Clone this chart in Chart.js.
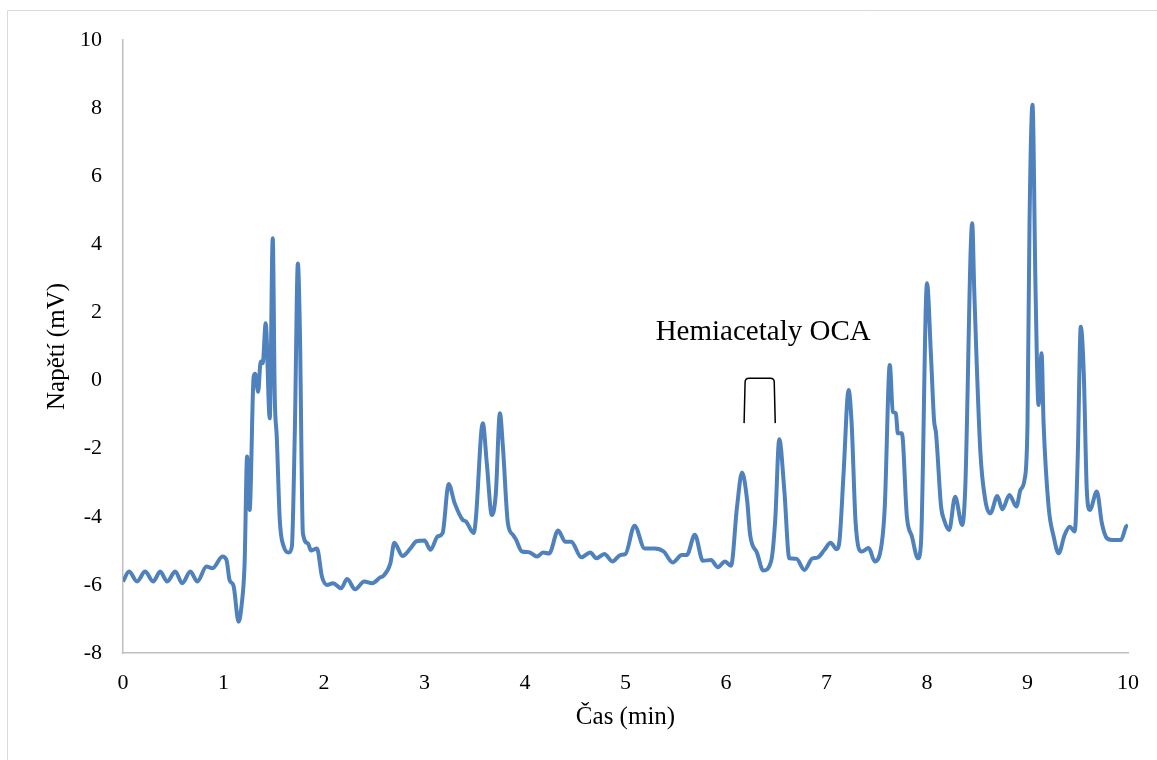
<!DOCTYPE html>
<html>
<head>
<meta charset="utf-8">
<script src="https://cdn.jsdelivr.net/npm/chart.js@4/dist/chart.umd.min.js"></script>
<style>
	html, body { margin: 0; padding: 0; background: #fff; }
	canvas { display: block; }
</style>
</head>
<body>
<canvas id="chart" width="1157" height="760"></canvas>
<script>
// time (min) and detector voltage (mV)
const times = [
	0.00, 0.06, 0.14, 0.22, 0.30, 0.37, 0.44, 0.52, 0.59, 0.67, 0.74, 0.83, 0.89, 0.99,
	1.03, 1.06, 1.10, 1.15, 1.18, 1.21, 1.235, 1.26, 1.30, 1.315, 1.345, 1.37, 1.39, 1.42,
	1.46, 1.49, 1.51, 1.53, 1.56, 1.60, 1.65, 1.68, 1.71, 1.74, 1.76, 1.79, 1.84, 1.87,
	1.93, 1.98, 2.03, 2.09, 2.17, 2.23, 2.31, 2.40, 2.48, 2.56, 2.59, 2.66, 2.70, 2.78,
	2.86, 2.92, 3.00, 3.06, 3.13, 3.18, 3.24, 3.30, 3.38, 3.41, 3.49, 3.51, 3.58, 3.62,
	3.67, 3.71, 3.75, 3.78, 3.83, 3.88, 3.91, 3.97, 4.04, 4.12, 4.18, 4.24, 4.33, 4.40,
	4.46, 4.56, 4.65, 4.71, 4.79, 4.87, 4.95, 5.00, 5.09, 5.19, 5.29, 5.38, 5.47, 5.56,
	5.61, 5.69, 5.77, 5.85, 5.92, 5.99, 6.05, 6.11, 6.16, 6.21, 6.24, 6.31, 6.37, 6.45,
	6.49, 6.53, 6.58, 6.63, 6.70, 6.78, 6.86, 6.91, 6.98, 7.04, 7.10, 7.13, 7.17, 7.22,
	7.25, 7.29, 7.35, 7.42, 7.48, 7.55, 7.58, 7.63, 7.66, 7.69, 7.71, 7.75, 7.80, 7.85,
	7.91, 7.94, 8.00, 8.04, 8.07, 8.09, 8.14, 8.17, 8.22, 8.28, 8.35, 8.38, 8.45, 8.47,
	8.53, 8.58, 8.63, 8.70, 8.75, 8.82, 8.89, 8.93, 8.97, 9.00, 9.02, 9.05, 9.08, 9.11,
	9.14, 9.16, 9.21, 9.26, 9.31, 9.37, 9.42, 9.47, 9.50, 9.53, 9.56, 9.59, 9.62, 9.69,
	9.74, 9.79, 9.84, 9.93, 9.98, 10.00
];
const voltage = [
	-5.90, -5.61, -5.90, -5.61, -5.90, -5.61, -5.90, -5.61, -5.95, -5.61, -5.90, -5.46, -5.51, -5.17,
	-5.27, -5.85, -6.03, -7.08, -6.60, -5.37, -2.23, -3.80, 0.11, 0.20, -0.33, 0.56, 0.51, 1.68,
	-1.11, 4.18, -0.47, -1.65, -4.09, -4.88, -5.05, -4.88, -1.45, 3.44, 1.49, -4.48, -4.78, -4.99,
	-4.93, -5.76, -6.00, -5.95, -6.10, -5.83, -6.13, -5.90, -5.95, -5.78, -5.74, -5.37, -4.76, -5.15,
	-4.93, -4.72, -4.70, -4.97, -4.58, -4.48, -3.04, -3.60, -4.09, -4.13, -4.48, -4.09, -1.25, -2.43,
	-3.95, -3.31, -0.96, -1.94, -4.19, -4.53, -4.67, -5.02, -5.04, -5.17, -5.05, -5.08, -4.40, -4.73,
	-4.73, -5.19, -5.05, -5.22, -5.09, -5.31, -5.12, -5.09, -4.26, -4.93, -4.93, -5.02, -5.34, -5.12,
	-5.12, -4.53, -5.29, -5.27, -5.48, -5.31, -5.44, -3.70, -2.70, -3.51, -4.53, -5.07, -5.58, -5.29,
	-4.09, -1.72, -3.21, -5.22, -5.23, -5.56, -5.22, -5.20, -4.97, -4.76, -4.95, -4.68, -2.72, -0.28,
	-1.25, -4.19, -5.02, -4.92, -5.31, -4.78, -3.70, 0.46, -0.91, -0.96, -1.55, -1.55, -4.00, -4.58,
	-5.22, -4.78, 2.86, 0.70, -1.16, -1.55, -3.70, -4.09, -4.39, -3.41, -4.24, -3.21, 4.62, 2.66,
	-2.04, -3.51, -3.90, -3.39, -3.78, -3.36, -3.70, -3.21, -2.92, -1.25, 4.62, 8.10, 2.66, -0.72,
	0.80, -1.25, -3.70, -4.58, -5.07, -4.53, -4.29, -4.43, -2.23, 1.58, 0.21, -3.21, -3.80, -3.26,
	-4.19, -4.63, -4.68, -4.68, -4.29, -4.24
];
const xTicks = [0, 1, 2, 3, 4, 5, 6, 7, 8, 9, 10];
const yTicks = [-8, -6, -4, -2, 0, 2, 4, 6, 8, 10];

const label = 'Hemiacetaly OCA';
const bracketX = [6.18, 6.49];
const bracketY = [-1.25, 0.07];
const labelAt = [6.37, 1.4];

const serif = '"Liberation Serif", "Times New Roman", serif';

// text and bracket over the two hemiacetal peaks, plus the thin picture frame
const decorations = {
	id: 'decorations',
	beforeDraw(chart) {
		const ctx = chart.ctx;
		ctx.save();
		ctx.strokeStyle = '#d9d9d9';
		ctx.lineWidth = 1;
		ctx.beginPath();
		ctx.moveTo(7.5, chart.height);
		ctx.lineTo(7.5, 10.5);
		ctx.lineTo(chart.width, 10.5);
		ctx.stroke();
		ctx.restore();
	},
	afterDatasetsDraw(chart) {
		const {ctx, scales: {x, y}} = chart;
		ctx.save();
		ctx.fillStyle = '#000';
		ctx.font = '29px ' + serif;
		ctx.textAlign = 'center';
		ctx.textBaseline = 'middle';
		ctx.fillText(label, x.getPixelForValue(labelAt[0]), y.getPixelForValue(labelAt[1]));

		const x0 = x.getPixelForValue(bracketX[0]);
		const x1 = x.getPixelForValue(bracketX[1]);
		const yb = y.getPixelForValue(bracketY[0]);
		const yt = y.getPixelForValue(bracketY[1]);
		const r = 4;
		ctx.strokeStyle = '#000';
		ctx.lineWidth = 1.5;
		ctx.beginPath();
		ctx.moveTo(x0, yb);
		ctx.lineTo(x0 + 1, yt + r);
		ctx.quadraticCurveTo(x0 + 1, yt, x0 + 1 + r, yt);
		ctx.lineTo(x1 - 1 - r, yt);
		ctx.quadraticCurveTo(x1 - 1, yt, x1 - 1, yt + r);
		ctx.lineTo(x1, yb);
		ctx.stroke();
		ctx.restore();
	}
};

new Chart(document.getElementById('chart').getContext('2d'), {
	type: 'line',
	data: {
		datasets: [{
			data: times.map((t, i) => ({x: t, y: voltage[i]})),
			borderColor: '#4f81bd',
			borderWidth: 4,
			pointRadius: 0,
			fill: false,
			cubicInterpolationMode: 'monotone'
		}]
	},
	options: {
		responsive: false,
		animation: false,
		devicePixelRatio: 1,
		layout: { padding: { left: 0, top: 40, right: 29, bottom: 0 } },
		plugins: { legend: { display: false }, tooltip: { enabled: false } },
		scales: {
			x: {
				type: 'linear',
				min: 0,
				max: 10,
				afterBuildTicks: (scale) => { scale.ticks = xTicks.map(v => ({value: v})); },
				afterFit: (scale) => { scale.height = 107; },
				grid: { display: false, drawTicks: false },
				border: { display: true, color: '#bfbfbf', width: 1.5 },
				ticks: { color: '#000', font: { family: serif, size: 22 }, padding: 17, maxRotation: 0 },
				title: { display: true, text: 'Čas (min)', color: '#000', font: { family: serif, size: 25 }, padding: { bottom: 28 } }
			},
			y: {
				min: -8,
				max: 10,
				afterBuildTicks: (scale) => { scale.ticks = yTicks.map(v => ({value: v})); },
				afterFit: (scale) => { scale.width = 123; },
				grid: { display: false, drawTicks: false },
				border: { display: true, color: '#bfbfbf', width: 1.5 },
				ticks: { color: '#000', font: { family: serif, size: 22 }, padding: 21 },
				title: { display: true, text: 'Napětí (mV)', color: '#000', font: { family: serif, size: 25 }, padding: { top: 42 } }
			}
		}
	},
	plugins: [decorations]
});
</script>
</body>
</html>
